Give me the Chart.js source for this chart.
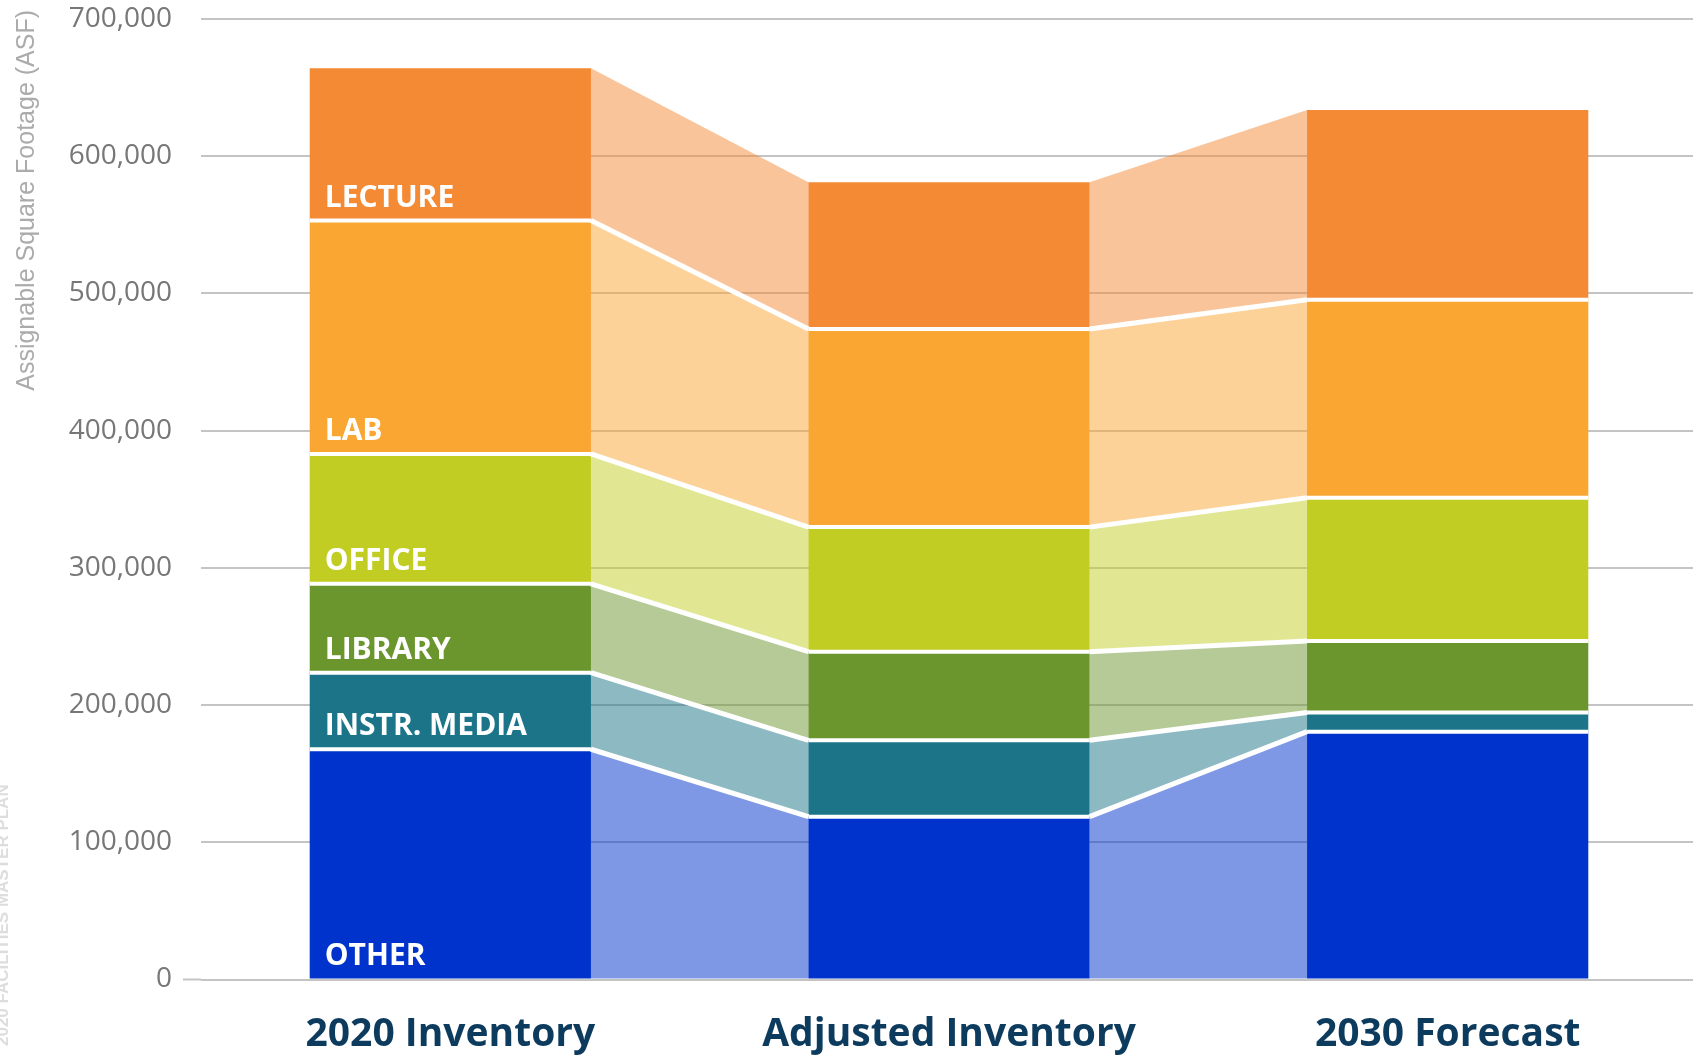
<!DOCTYPE html>
<html>
<head>
<meta charset="utf-8">
<script src="https://cdn.jsdelivr.net/npm/chart.js@4.4.1/dist/chart.umd.min.js"></script>
<style>
  html, body { margin: 0; padding: 0; background: #ffffff; overflow: hidden; }
  #wrap { position: absolute; left: 0; top: 0; width: 1697px; height: 1057px; }
  canvas { display: block; }
</style>
</head>
<body>
<div id="wrap"><canvas id="c" width="1697" height="1057"></canvas></div>
<script>
// ---- data ----
const categories = ['2020 Inventory', 'Adjusted Inventory', '2030 Forecast'];
const seriesNames = ['OTHER', 'INSTR. MEDIA', 'LIBRARY', 'OFFICE', 'LAB', 'LECTURE'];
const other      = [167800, 118700, 180600];
const instrMedia = [55800, 55600, 14000];
const library    = [64800, 64600, 52100];
const office     = [94600, 90800, 104400];
const lab        = [170100, 144400, 144300];
const lecture    = [111000, 106900, 138300];
const yMin = 0;
const yMax = 700000;
const yStep = 100000;
const yTitle = 'Assignable Square Footage (ASF)';
const footerNote = '2020 FACILITIES MASTER PLAN';

// ---- styles ----
const seriesValues = [other, instrMedia, library, office, lab, lecture];
const seriesColors = ['#0032cc', '#1b7488', '#6b962e', '#c1cd23', '#f9a633', '#f58a35'];

function hexToRgba(hex, a) {
  const n = parseInt(hex.slice(1), 16);
  return `rgba(${(n >> 16) & 255},${(n >> 8) & 255},${n & 255},${a})`;
}

const flowPlugin = {
  id: 'flowBands',
  beforeDatasetsDraw(chart) {
    const ctx = chart.ctx;
    ctx.save();
    chart.data.datasets.forEach((ds, d) => {
      const els = chart.getDatasetMeta(d).data;
      ctx.fillStyle = hexToRgba(ds.backgroundColor, 0.5);
      for (let i = 0; i < els.length - 1; i++) {
        const a = els[i], b = els[i + 1];
        const x1 = a.x + a.width / 2, x2 = b.x - b.width / 2;
        ctx.beginPath();
        ctx.moveTo(x1, a.y);
        ctx.lineTo(x2, b.y);
        ctx.lineTo(x2, b.base);
        ctx.lineTo(x1, a.base);
        ctx.closePath();
        ctx.fill();
      }
    });
    ctx.restore();
  },
  afterDatasetsDraw(chart) {
    const ctx = chart.ctx;
    const n = chart.data.datasets.length;
    ctx.save();
    ctx.strokeStyle = '#ffffff';
    ctx.lineCap = 'butt';
    for (let d = 0; d < n - 1; d++) {
      const els = chart.getDatasetMeta(d).data;
      ctx.lineWidth = 4;
      els.forEach(e => {
        ctx.beginPath();
        ctx.moveTo(e.x - e.width / 2, e.y);
        ctx.lineTo(e.x + e.width / 2, e.y);
        ctx.stroke();
      });
      ctx.lineWidth = 5;
      for (let i = 0; i < els.length - 1; i++) {
        const a = els[i], b = els[i + 1];
        ctx.beginPath();
        ctx.moveTo(a.x + a.width / 2, a.y);
        ctx.lineTo(b.x - b.width / 2, b.y);
        ctx.stroke();
      }
    }
    ctx.fillStyle = '#ffffff';
    ctx.font = '700 30px "Open Sans"';
    ctx.textAlign = 'left';
    ctx.textBaseline = 'alphabetic';
    chart.data.datasets.forEach((ds, d) => {
      const e = chart.getDatasetMeta(d).data[0];
      ctx.fillText(ds.label, e.x - e.width / 2 + 15, e.base - 14);
    });
    ctx.restore();
  },
  afterDraw(chart) {
    const ctx = chart.ctx;
    ctx.save();
    ctx.translate(34, 10);
    ctx.rotate(-Math.PI / 2);
    ctx.fillStyle = '#ababab';
    ctx.font = '25px "Liberation Sans"';
    ctx.textAlign = 'right';
    ctx.textBaseline = 'alphabetic';
    ctx.fillText(yTitle, 0, 0);
    ctx.restore();
    ctx.save();
    ctx.translate(7.5, 1046);
    ctx.rotate(-Math.PI / 2);
    ctx.fillStyle = '#dddddd';
    ctx.font = 'bold 17px "Liberation Sans"';
    ctx.textAlign = 'left';
    ctx.textBaseline = 'alphabetic';
    ctx.fillText(footerNote, 0, 0);
    ctx.restore();
    // short tick extension of the zero line
    const y = chart.scales.y;
    const y0 = y.getPixelForValue(0);
    ctx.save();
    ctx.strokeStyle = '#c4c4c4';
    ctx.lineWidth = 2;
    ctx.beginPath();
    ctx.moveTo(183, y0);
    ctx.lineTo(chart.chartArea.left, y0);
    ctx.stroke();
    ctx.restore();
  }
};

new Chart(document.getElementById('c'), {
  type: 'bar',
  data: {
    labels: categories,
    datasets: seriesNames.map((name, i) => ({
      label: name,
      data: seriesValues[i],
      backgroundColor: seriesColors[i],
      borderWidth: 0,
      barPercentage: 0.564,
      categoryPercentage: 1.0
    }))
  },
  options: {
    responsive: false,
    animation: false,
    events: [],
    layout: { padding: { top: 19, left: 0, right: 0, bottom: 0 } },
    plugins: { legend: { display: false }, tooltip: { enabled: false } },
    scales: {
      x: {
        stacked: true,
        offset: true,
        grid: { display: false, drawTicks: false },
        border: { display: false },
        ticks: {
          color: '#0d3b5e',
          font: { family: '"Open Sans"', weight: '700', size: 39 },
          padding: 32,
          maxRotation: 0,
          minRotation: 0
        },
        afterFit(scale) { scale.height = 77.5; scale.paddingLeft = 0; scale.paddingRight = 0; }
      },
      y: {
        stacked: true,
        min: yMin,
        max: yMax,
        grid: { color: '#c4c4c4', lineWidth: 2, drawTicks: false },
        border: { display: false },
        ticks: {
          stepSize: yStep,
          color: '#777777',
          font: { family: '"Open Sans"', size: 28 },
          padding: 29,
          callback: v => Number(v).toLocaleString('en-US')
        },
        afterFit(scale) { scale.width = 201; scale.paddingTop = 0; scale.paddingBottom = 0; }
      }
    }
  },
  plugins: [flowPlugin]
});
</script>
</body>
</html>
